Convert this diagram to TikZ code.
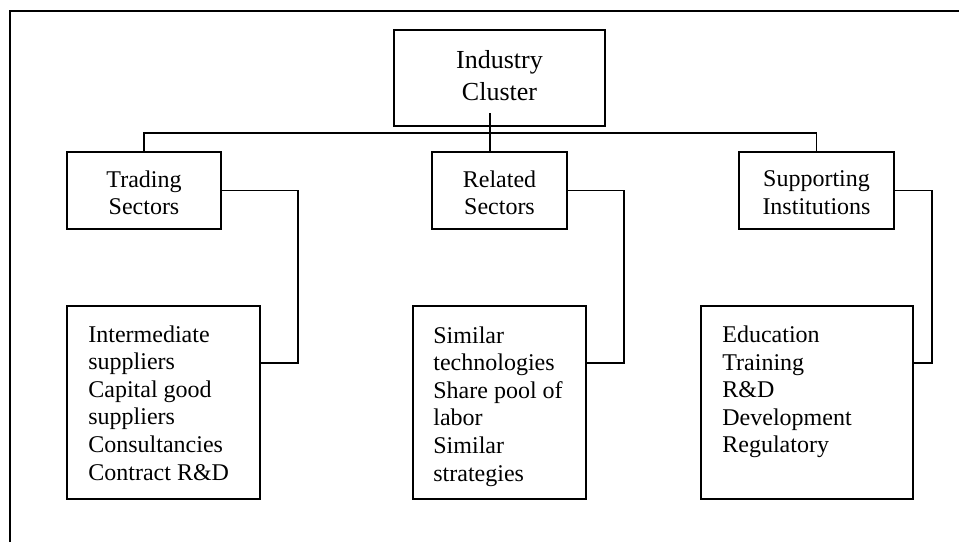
\documentclass[tikz,border=0pt]{standalone}
\usepackage{fontspec}
\setmainfont{Liberation Serif}
\begin{document}
\begin{tikzpicture}[x=0.5pt,y=-0.5pt,
  box/.style={draw,line width=0.7pt,rectangle,inner sep=0pt},
  sector/.style={box,minimum height=38.5pt},
  listbox/.style={box,minimum height=96.5pt},
  sectortext/.style={align=center,inner sep=0pt,font=\fontsize{12}{13.8}\selectfont},
  listtext/.style={align=left,inner sep=0pt,anchor=north west,font=\fontsize{12}{13.8}\selectfont},
  link/.style={line width=0.7pt},
  frame/.style={line width=1pt}]
\useasboundingbox (0,0) rectangle (959,542);

% outer frame (top and left edges)
\draw[frame] (10,542) -- (10,11) -- (959,11);

% top node
\node[box,minimum width=105.5pt,minimum height=48pt] (ic) at (499.5,78) {};
\node[sectortext,font=\fontsize{13}{16}\selectfont] (ictext) at ([yshift=1.4pt]ic.center) {Industry\\Cluster};

% sector nodes
\node[sector,minimum width=77pt] (ts) at (144,190.5) {};
\node[sector,minimum width=67.5pt] (rs) at (499.5,190.5) {};
\node[sector,minimum width=77.5pt] (ss) at (816.5,190.5) {};
\node[sectortext] (tstext) at ([yshift=-1.2pt]ts.center) {Trading\\Sectors};
\node[sectortext] (rstext) at ([yshift=-1.2pt]rs.center) {Related\\Sectors};
\node[sectortext] (sstext) at ([yshift=-1.2pt]ss.center) {Supporting\\Institutions};

% detail lists
\node[listbox,minimum width=96.5pt] (il) at (163.5,402.5) {};
\node[listbox,minimum width=86.5pt] (sl) at (499.5,402.5) {};
\node[listbox,minimum width=106pt] (el) at (807,402.5) {};
\node[listtext] (iltext) at (88,325) {Intermediate\\suppliers\\Capital good\\suppliers\\Consultancies\\Contract R\&D};
\node[listtext] (sltext) at (433,326) {Similar\\technologies\\Share pool of\\labor\\Similar\\strategies};
\node[listtext] (eltext) at (722,325.5) {Education\\Training\\R\&D\\Development\\Regulatory};

% bus from the cluster to the sectors
\coordinate (bus) at (0,133);
\coordinate (stem) at (490,113);
\draw[link] (ts.north) -- (ts.north |- bus) -- (ss.north |- bus) -- (ss.north);
\draw[link] (stem) -- (stem |- rs.north);

% sector to list connectors
\coordinate (tbend) at (298,363);
\coordinate (rbend) at (624,363);
\coordinate (sbend) at (932,363);
\draw[link] (ts.east) -| (tbend) -- (tbend -| il.east);
\draw[link] (rs.east) -| (rbend) -- (rbend -| sl.east);
\draw[link] (ss.east) -| (sbend) -- (sbend -| el.east);
\end{tikzpicture}
\end{document}
